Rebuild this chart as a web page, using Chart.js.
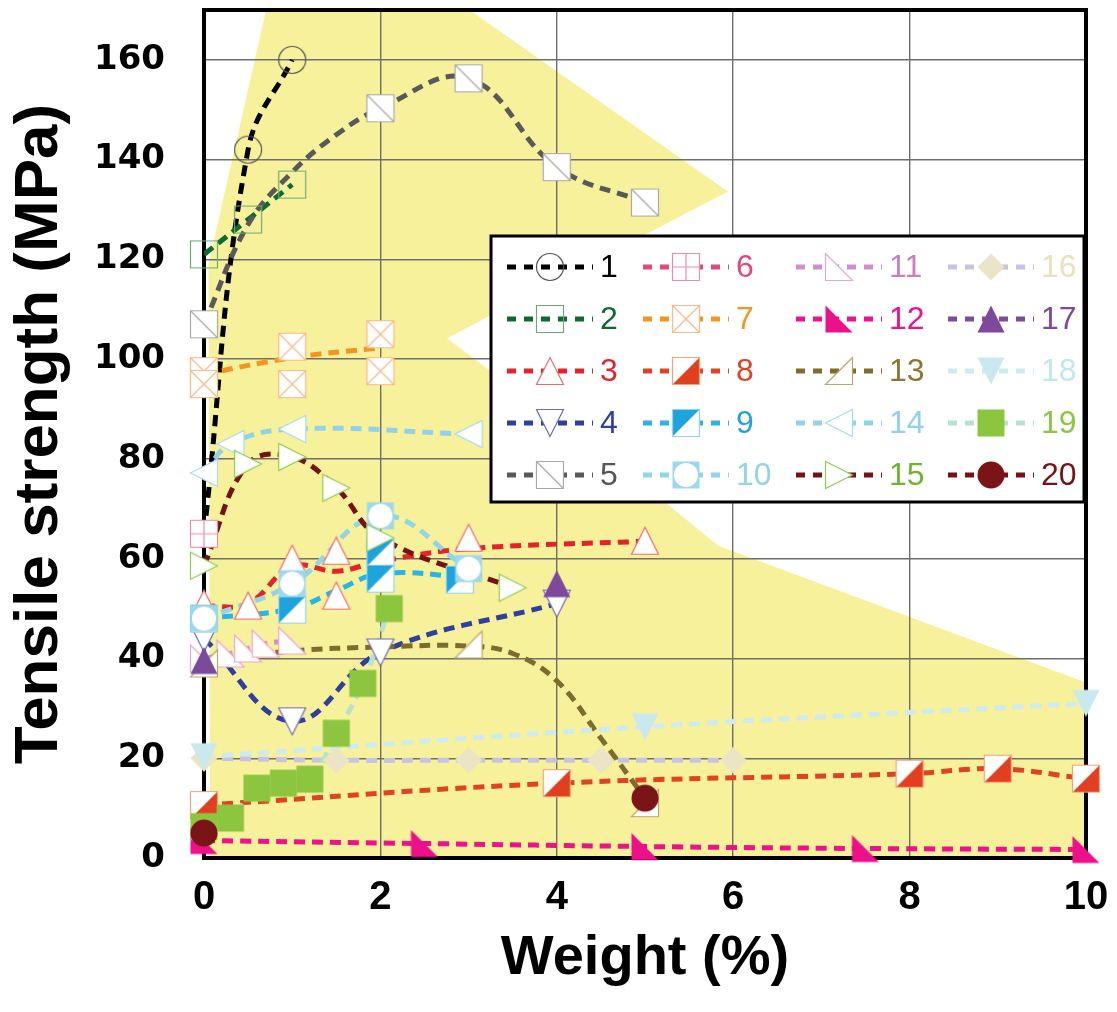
<!DOCTYPE html>
<html>
<head>
<meta charset="utf-8">
<title>Tensile strength vs weight</title>
<script src="https://cdn.jsdelivr.net/npm/chart.js@4.4.1/dist/chart.umd.min.js"></script>
<style>
  body { margin: 0; background: #fff; overflow: hidden; }
  #wrap { width: 1117px; height: 1017px; margin-top: -5px; }
</style>
</head>
<body>
<div id="wrap"><canvas id="chart" width="1117" height="1017"></canvas></div>
<script>
// axis ranges / ticks
var xTicks = [0, 2, 4, 6, 8, 10];
var yTicks = [0, 20, 40, 60, 80, 100, 120, 140, 160];
var names = ['1','2','3','4','5','6','7','8','9','10','11','12','13','14','15','16','17','18','19','20'];

// measured points, [weight %, tensile strength MPa]
var s1  = [[0, 65], [0.5, 142], [1, 160]];
var s2  = [[0, 121], [0.5, 128], [1, 135]];
var s3  = [[0, 51], [0.5, 50.6], [1, 60], [1.5, 61.6], [1.5, 52.6], [3, 64.2], [5, 63.6]];
var s4  = [[0, 44], [1, 27.4], [2, 41.2], [4, 51]];
var s5  = [[0, 107], [2, 150.3], [3, 156.3], [4, 138.5], [5, 131.4]];
var s6  = [[0, 65]];
var s7  = [[0, 97.6], [0, 95], [1, 102.5], [1, 95], [2, 105], [2, 97.6]];
var s8  = [[0, 10.6], [4, 15], [8, 16.9], [9, 17.9], [10, 15.9]];
var s9  = [[0, 48], [1, 49.8], [2, 61.2], [2, 56], [2.9, 55.8]];
var s10 = [[0, 48], [1, 55], [2, 68.6], [3, 58]];
var s11 = [[0, 40], [0.3, 41], [0.5, 42], [0.7, 43], [1, 43.6]];
var s12 = [[0, 3.5], [2.5, 2.9], [5, 2.3], [7.5, 1.9], [10, 1.7]];
var s13 = [[0, 39], [3, 42.8], [5, 11]];
var s14 = [[0, 77.2], [0.3, 83], [1, 86], [3, 85]];
var s15 = [[0, 58.6], [0.5, 79], [1, 80.4], [1.5, 74.2], [2, 64.2], [3.5, 54.2]];
var s16 = [[0, 20], [1.5, 19.6], [3, 19.6], [4.5, 19.6], [6, 19.6]];
var s17 = [[0, 39.6], [4, 55]];
var s18 = [[0, 20.3], [5, 26.3], [10, 31]];
var s19 = [[0, 6.3], [0.3, 8], [0.6, 14], [0.9, 15], [1.2, 15.8], [1.5, 25], [1.8, 35], [2.1, 50]];
var s20 = [[0, 5], [5, 12]];

// dashed fit curves read off the figure where they don't pass through the markers
var l3  = [[0, 50.5], [0.5, 51], [1, 58.5], [1.5, 57.5], [2, 59.5], [3, 62], [5, 63.5]];
var l5  = [[0, 107], [0.5, 127], [1, 137.5], [1.5, 145], [2, 150.3], [3, 156.3], [4, 138.5], [5, 131.4]];
var l7  = [[0, 97], [1, 100.3], [2, 102.3]];
var l9  = [[0, 48], [1, 50], [1.5, 53.6], [2, 57], [3, 56.3]];
var l13 = [[0, 39.5], [1, 41.5], [2, 42.3], [3, 42.5], [3.5, 41], [4, 35.5], [4.5, 24], [5, 12]];

// yellow band behind the data
var band = [[0.73, 172], [2.85, 172], [5.94, 133.6], [2.755, 104.2], [5.25, 71], [5.83, 62.6],
            [10, 35.2], [10, 0], [0.07, 0], [0.05, 119]];

var markerPts = [s1, s2, s3, s4, s5, s6, s7, s8, s9, s10, s11, s12, s13, s14, s15, s16, s17, s18, s19, s20];
var linePts = [s1, s2, l3, s4, l5, null, l7, s8, l9, s10, s11, s12, l13, s14, s15, s16, null, s18, s19, null];

var lineColors = ['#000000', '#0d6a33', '#e4222b', '#2f3f9e', '#595959', '#e0497c', '#f7931e', '#df4326',
                  '#27b4e6', '#92d4e8', '#d18fca', '#ec128c', '#7e6c2c', '#91d1e9', '#761215', '#c7c3e6',
                  '#7d4a9d', '#cdebf0', '#b5e3cf', '#761215'];
var textColors = ['#000000', '#0d6a33', '#e4222b', '#2f3f9e', '#555555', '#e0497c', '#f7931e', '#df4326',
                  '#1ea3dc', '#92d4e8', '#c77fc0', '#ec128c', '#8a7632', '#91d1e9', '#6cb52f', '#e9e1bf',
                  '#7d4a9d', '#c4e6ec', '#8cc63f', '#761215'];
// kind, fill, stroke
var markerDefs = [
  ['circle', null, '#555555'],
  ['square', null, '#6aaa74'],
  ['triUp', '#ffffff', '#f26b6b'],
  ['triDown', '#ffffff', '#6b6bc0'],
  ['sqDiag', '#ffffff', '#aaaaaa'],
  ['sqPlus', '#ffffff', '#f08cab'],
  ['sqX', '#ffffff', '#fbb987'],
  ['sqLR', '#e0401f', '#f7a07a'],
  ['sqUL', '#1ea3dc', '#8fd6ee'],
  ['sqRing', '#9dd9ec', null],
  ['rtL', '#ffffff', '#eaa6d2'],
  ['rtL', '#ec118b', null],
  ['rtR', '#ffffff', '#b9a86e'],
  ['triLeft', '#ffffff', '#a5dbee'],
  ['triRight', '#ffffff', '#8fcb55'],
  ['diamond', '#ebe4c6', null],
  ['triUp', '#7d4a9b', null],
  ['triDown', '#c9e9ee', null],
  ['square', '#8cc63f', null],
  ['circle', '#7a1416', null]
];

function makeMarker(kind, fill, stroke) {
  var c = document.createElement('canvas');
  c.width = 32; c.height = 32;
  var g = c.getContext('2d');
  var h = 13.5;
  g.translate(16, 16);
  g.lineWidth = 1.2;
  function poly(pts) {
    g.beginPath();
    pts.forEach(function(p, i) { if (i) g.lineTo(p[0], p[1]); else g.moveTo(p[0], p[1]); });
    g.closePath();
  }
  function paint() {
    if (fill) { g.fillStyle = fill; g.fill(); }
    if (stroke) { g.strokeStyle = stroke; g.stroke(); }
  }
  var sq = [[-h, -h], [h, -h], [h, h], [-h, h]];
  if (kind === 'circle') {
    g.beginPath(); g.arc(0, 0, h, 0, Math.PI * 2); paint();
  } else if (kind === 'square') {
    poly(sq); paint();
  } else if (kind === 'sqDiag' || kind === 'sqPlus' || kind === 'sqX') {
    poly(sq); paint();
    g.beginPath();
    if (kind === 'sqDiag' || kind === 'sqX') { g.moveTo(-h, -h); g.lineTo(h, h); }
    if (kind === 'sqX') { g.moveTo(h, -h); g.lineTo(-h, h); }
    if (kind === 'sqPlus') { g.moveTo(0, -h); g.lineTo(0, h); g.moveTo(-h, 0); g.lineTo(h, 0); }
    g.strokeStyle = stroke; g.stroke();
  } else if (kind === 'sqLR' || kind === 'sqUL') {
    poly(sq); g.fillStyle = '#ffffff'; g.fill();
    poly(kind === 'sqLR' ? [[h, -h], [h, h], [-h, h]] : [[-h, -h], [h, -h], [-h, h]]);
    g.fillStyle = fill; g.fill();
    poly(sq); g.strokeStyle = stroke; g.stroke();
  } else if (kind === 'sqRing') {
    poly(sq); g.fillStyle = fill; g.fill();
    g.beginPath(); g.arc(0, 0, h - 1.5, 0, Math.PI * 2); g.fillStyle = '#ffffff'; g.fill();
  } else if (kind === 'triUp') {
    poly([[0, -h], [h, h], [-h, h]]); paint();
  } else if (kind === 'triDown') {
    poly([[0, h], [h, -h], [-h, -h]]); paint();
  } else if (kind === 'triLeft') {
    poly([[-h, 0], [h, -h], [h, h]]); paint();
  } else if (kind === 'triRight') {
    poly([[h, 0], [-h, -h], [-h, h]]); paint();
  } else if (kind === 'rtL') {
    poly([[-h, -h], [-h, h], [h, h]]); paint();
  } else if (kind === 'rtR') {
    poly([[h, -h], [h, h], [-h, h]]); paint();
  } else if (kind === 'diamond') {
    poly([[0, -h], [h, 0], [0, h], [-h, 0]]); paint();
  }
  return c;
}

var markers = markerDefs.map(function(d) { return makeMarker(d[0], d[1], d[2]); });

function toXY(pts) { return pts.map(function(p) { return { x: p[0], y: p[1] }; }); }

var datasets = [];
markerPts.forEach(function(pts, i) {
  datasets.push({
    label: names[i],
    data: toXY(pts),
    showLine: false,
    pointStyle: markers[i],
    pointRadius: 14,
    pointHoverRadius: 14,
    clip: false,
    order: 20 - i
  });
});
linePts.forEach(function(pts, i) {
  if (!pts) return;
  datasets.push({
    label: names[i] + ' fit',
    data: toXY(pts),
    showLine: true,
    borderColor: lineColors[i],
    borderWidth: 5,
    borderDash: [11, 7],
    tension: 0.4,
    pointRadius: 0,
    fill: false,
    order: 200 - i
  });
});

var backdrop = {
  id: 'backdrop',
  beforeDraw: function(chart) {
    var a = chart.chartArea, xs = chart.scales.x, ys = chart.scales.y, g = chart.ctx;
    g.save();
    g.beginPath();
    g.rect(a.left, a.top, a.right - a.left, a.bottom - a.top);
    g.clip();
    g.beginPath();
    band.forEach(function(p, i) {
      var px = xs.getPixelForValue(p[0]), py = ys.getPixelForValue(p[1]);
      if (i) g.lineTo(px, py); else g.moveTo(px, py);
    });
    g.closePath();
    g.fillStyle = '#f8f19b';
    g.fill();
    g.restore();
  },
  beforeDatasetsDraw: function(chart) {
    var a = chart.chartArea, g = chart.ctx;
    g.save();
    g.lineWidth = 4;
    g.strokeStyle = '#000';
    g.strokeRect(a.left, a.top, a.right - a.left, a.bottom - a.top);
    g.restore();
  }
};

// legend in a 4 x 5 grid, drawn by hand (canvas is shifted up 5px on the page)
var legendBox = { left: 491, top: 241, right: 1084, bottom: 507 };
var legendCols = [507, 643, 796, 948];
var legendRows = [272, 324, 376, 428, 480];
var gridLegend = {
  id: 'gridLegend',
  afterDraw: function(chart) {
    var g = chart.ctx, b = legendBox;
    g.save();
    g.fillStyle = '#fff';
    g.fillRect(b.left, b.top, b.right - b.left, b.bottom - b.top);
    g.lineWidth = 3;
    g.strokeStyle = '#000';
    g.strokeRect(b.left, b.top, b.right - b.left, b.bottom - b.top);
    names.forEach(function(n, i) {
      var x0 = legendCols[Math.floor(i / 5)], y0 = legendRows[i % 5];
      g.setLineDash([9, 8]);
      g.lineWidth = 5;
      g.strokeStyle = lineColors[i];
      g.beginPath(); g.moveTo(x0, y0); g.lineTo(x0 + 86, y0); g.stroke();
      g.setLineDash([]);
      var m = markers[i];
      g.drawImage(m, x0 + 43 - m.width / 2, y0 - m.height / 2);
      g.fillStyle = textColors[i];
      g.font = '32px "Liberation Sans", Arial, sans-serif';
      g.textAlign = 'left';
      g.textBaseline = 'middle';
      g.fillText(n, x0 + 93, y0 + 1);
    });
    g.restore();
  }
};

new Chart(document.getElementById('chart'), {
  type: 'scatter',
  data: { datasets: datasets },
  options: {
    responsive: false,
    animation: false,
    events: [],
    devicePixelRatio: 1,
    layout: { padding: { left: 0, top: 2, right: 31, bottom: 0 } },
    plugins: { legend: { display: false }, tooltip: { enabled: false } },
    scales: {
      x: {
        type: 'linear', min: 0, max: 10,
        afterFit: function(s) { s.height = 154; s.paddingLeft = 0; s.paddingRight = 0; },
        afterBuildTicks: function(s) { s.ticks = xTicks.map(function(v) { return { value: v }; }); },
        grid: { color: '#6e6e6e', lineWidth: 1.4, drawTicks: false },
        border: { display: false },
        ticks: { padding: 16, color: '#000', font: { family: '"Liberation Sans", Arial, sans-serif', size: 40, weight: 'bold' } },
        title: { display: true, text: 'Weight (%)', color: '#000', padding: { top: 0, bottom: 20 },
                 font: { family: '"Liberation Sans", Arial, sans-serif', size: 56, weight: 'bold' } }
      },
      y: {
        type: 'linear', min: 0, max: 170,
        afterFit: function(s) { s.width = 204; s.paddingTop = 0; s.paddingBottom = 0; },
        afterBuildTicks: function(s) { s.ticks = yTicks.map(function(v) { return { value: v }; }); },
        grid: { color: '#6e6e6e', lineWidth: 1.4, drawTicks: false },
        border: { display: false },
        ticks: { padding: 39, color: '#000', font: { family: '"DejaVu Sans", sans-serif', size: 34, weight: 'bold' } },
        title: { display: true, text: 'Tensile strength (MPa)', color: '#000', padding: { top: 3, bottom: 0 },
                 font: { family: '"Liberation Sans", Arial, sans-serif', size: 62, weight: 'bold' } }
      }
    }
  },
  plugins: [backdrop, gridLegend]
});
</script>
</body>
</html>
